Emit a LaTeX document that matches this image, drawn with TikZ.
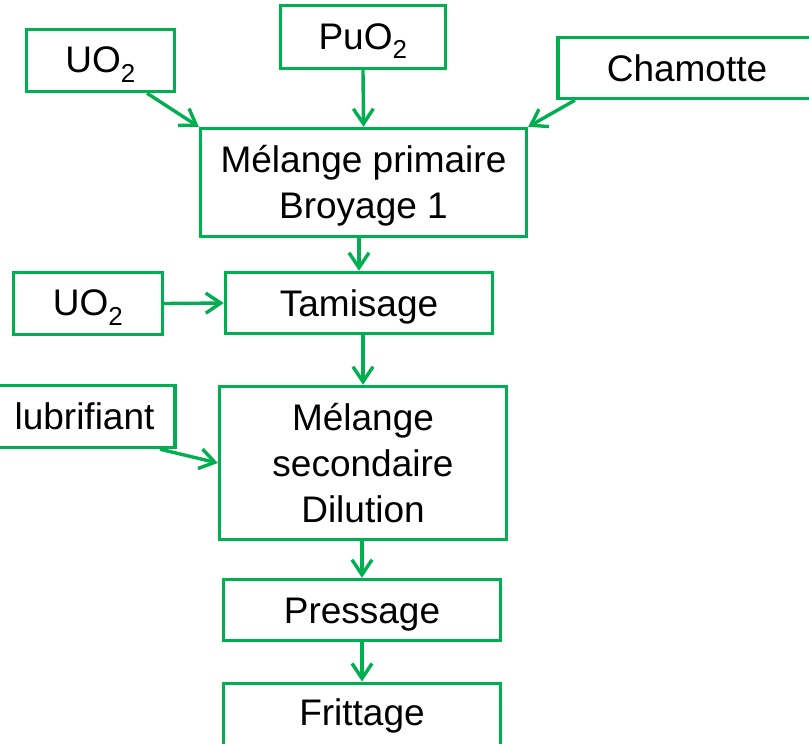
\documentclass[tikz,border=0pt]{standalone}
\usepackage{fontspec}
\setmainfont{Liberation Sans}
\usetikzlibrary{arrows.meta}
\definecolor{flowgreen}{RGB}{0,176,80}
\newcommand\tstr{\rule{0pt}{34pt}}
\newcommand\bstr{\rule[-8pt]{0pt}{8pt}}
\begin{document}
\begin{tikzpicture}[x=1pt,y=-1pt,
  box/.style={draw=flowgreen, line width=3.4pt, rectangle, inner sep=0pt,
    align=center, font=\fontsize{37}{46}\selectfont},
  flow/.style={draw=flowgreen, line width=3.4pt,
    -{Straight Barb[length=15pt,width=20pt,line width=3.4pt]}}]
\useasboundingbox (0,0) rectangle (809,744);
\begin{scope}
\clip (0,0) rectangle (809,744);
\node[box, minimum width=148pt, minimum height=62pt] (uoa) at (100.5,60.5) {\tstr UO\textsubscript{2}\bstr};
\node[box, minimum width=165pt, minimum height=63pt] (puo) at (363,37) {\tstr PuO\textsubscript{2}\bstr};
\node[box, minimum width=258pt, minimum height=61pt] (cham) at (687,68) {\tstr Chamotte\bstr};
\node[box, minimum width=326pt, minimum height=108pt] (mp) at (363.5,182.5) {\tstr Mélange primaire\\Broyage 1\bstr};
\node[box, minimum width=149pt, minimum height=62pt] (uob) at (88,303.5) {\tstr UO\textsubscript{2}\bstr};
\node[box, minimum width=267pt, minimum height=61pt] (tam) at (359,303) {\tstr Tamisage\bstr};
\node[box, minimum width=181pt, minimum height=62pt] (lub) at (84.5,416.5) {\tstr lubrifiant\bstr};
\node[box, minimum width=287pt, minimum height=153pt] (ms) at (363,463) {\tstr Mélange\\secondaire\\Dilution\bstr};
\node[box, minimum width=277pt, minimum height=61pt] (press) at (362,610) {\tstr Pressage\bstr};
\node[box, minimum width=277pt, minimum height=68pt, anchor=north] (fritt) at (362,681.5) {\tstr Frittage\rule[-17pt]{0pt}{17pt}};
\end{scope}
\draw[flow] ([xshift=46.5pt]uoa.south) -- (mp.north west);
\draw[flow] (puo.south) -- (mp.north);
\draw[flow] ([xshift=-112pt]cham.south) -- (mp.north east);
\draw[flow] (mp.south -| tam.north) -- (tam.north);
\draw[flow] (uob.east) -- (tam.west);
\draw[flow] (tam.south -| ms.north) -- (ms.north);
\draw[flow] ([xshift=75.5pt]lub.south) -- (ms.west);
\draw[flow] (ms.south -| press.north) -- (press.north);
\draw[flow] (press.south) -- (fritt.north);
\end{tikzpicture}
\end{document}
